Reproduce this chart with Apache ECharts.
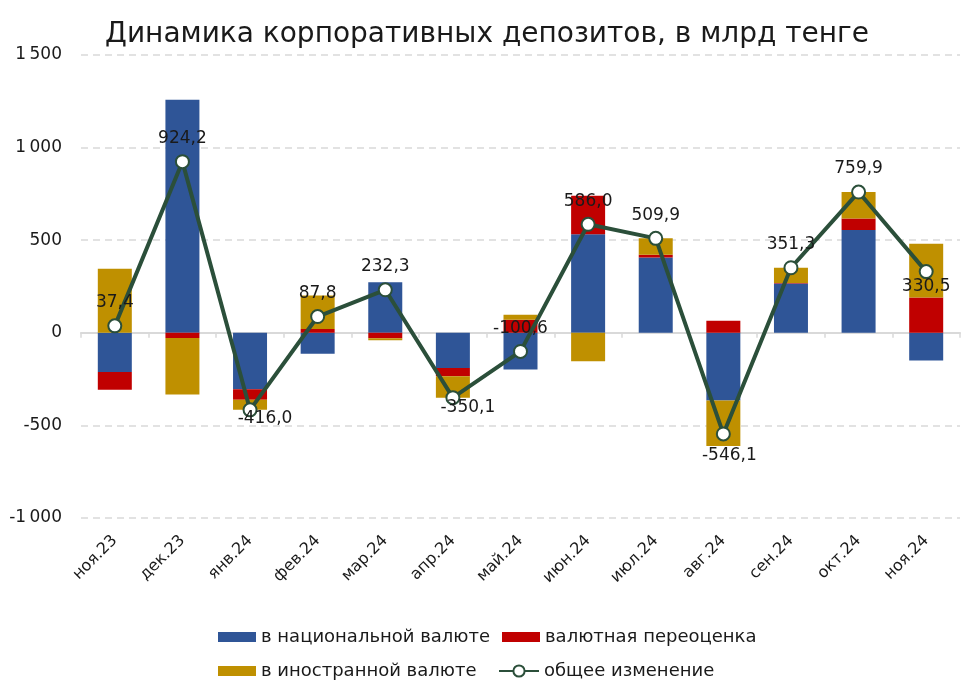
<!DOCTYPE html>
<html>
<head>
<meta charset="utf-8">
<script src="https://cdn.jsdelivr.net/npm/echarts@6/dist/echarts.min.js"></script>
<style>
html,body{margin:0;padding:0;background:#fff;}
#chart{width:974px;height:694px;}
</style>
</head>
<body>
<div id="chart"></div>
<script>
var categories = ['ноя.23','дек.23','янв.24','фев.24','мар.24','апр.24','май.24','июн.24','июл.24','авг.24','сен.24','окт.24','ноя.24'];
var nationalCurrency = [-212, 1258, -305, -113, 272.3, -190, -198, 532, 406, -365, 266, 555, -150];
var revaluation = [-96, -28, -57, 20, -30, -44, 70, 208, 16, 65, 3, 62, 190];
var foreignCurrency = [345.4, -305.8, -54, 180.8, -10, -116.1, 27.4, -154, 87.9, -246.1, 82.3, 142.9, 290.5];
var totalChange = [37.4, 924.2, -416.0, 87.8, 232.3, -350.1, -100.6, 586.0, 509.9, -546.1, 351.3, 759.9, 330.5];
var yTicks = [-1000, -500, 0, 500, 1000, 1500];

var FONT = 'DejaVu Sans';
var names = ['в национальной валюте', 'валютная переоценка', 'в иностранной валюте', 'общее изменение'];

// label styling for points whose label sits below the marker
var belowOffsets = {2: [15, 9], 5: [15, 10], 9: [6, 22], 12: [0, 15]};

var lineData = totalChange.map(function (v, i) {
  var item = {value: v};
  if (belowOffsets[i]) {
    item.label = {position: 'inside', offset: belowOffsets[i]};
  }
  return item;
});

function fmtNum(v) {
  return v.toFixed(1).replace('.', ',');
}
function fmtTick(v) {
  var s = Math.abs(v).toString();
  if (s.length > 3) s = s.slice(0, s.length - 3) + '\u2009' + s.slice(s.length - 3);
  return (v < 0 ? '-' : '') + s;
}

var chart = echarts.init(document.getElementById('chart'), null, {renderer: 'canvas'});
var legendBase = {
  orient: 'horizontal',
  itemWidth: 38,
  itemHeight: 10,
  itemGap: 5,
  textStyle: {fontFamily: FONT, fontSize: 18, color: '#1a1a1a'},
  selectedMode: false
};
chart.setOption({
  animation: false,
  backgroundColor: '#ffffff',
  title: {
    text: 'Динамика корпоративных депозитов, в млрд тенге',
    left: 'center',
    top: 16,
    textStyle: {fontFamily: FONT, fontSize: 28, fontWeight: 'normal', color: '#1a1a1a'}
  },
  legend: [
    Object.assign({}, legendBase, {data: [{name: names[0], icon: 'rect'}], left: 213, top: 623}),
    Object.assign({}, legendBase, {data: [{name: names[1], icon: 'rect'}], left: 497, top: 623}),
    Object.assign({}, legendBase, {data: [{name: names[2], icon: 'rect'}], left: 213, top: 657}),
    Object.assign({}, legendBase, {data: [names[3]], left: 493, top: 657, itemWidth: 40, itemHeight: 14})
  ],
  grid: {left: 81, right: 14, top: 55, bottom: 176, containLabel: false},
  xAxis: {
    type: 'category',
    data: categories,
    axisLine: {onZero: true, lineStyle: {color: '#d9d9d9', width: 2}},
    axisTick: {show: true, length: 5, lineStyle: {color: '#d9d9d9', width: 1.5}},
    axisLabel: {
      interval: 0,
      rotate: 45,
      fontFamily: FONT,
      fontSize: 16,
      color: '#1a1a1a',
      margin: 20
    },
    position: 'bottom'
  },
  yAxis: {
    type: 'value',
    min: -1000,
    max: 1500,
    interval: 500,
    axisLine: {show: false},
    axisTick: {show: false},
    axisLabel: {
      fontFamily: FONT,
      fontSize: 17,
      color: '#1a1a1a',
      margin: 19,
      formatter: function (v) { return fmtTick(v); }
    },
    splitLine: {lineStyle: {color: '#d9d9d9', width: 1.5, type: [7, 5]}}
  },
  series: [
    {
      name: names[0], type: 'bar', stack: 'dep', data: nationalCurrency,
      barWidth: 34, itemStyle: {color: '#2F5597'}
    },
    {
      name: names[1], type: 'bar', stack: 'dep', data: revaluation,
      barWidth: 34, itemStyle: {color: '#C00000'}
    },
    {
      name: names[2], type: 'bar', stack: 'dep', data: foreignCurrency,
      barWidth: 34, itemStyle: {color: '#BF9000'}
    },
    {
      name: names[3], type: 'line', data: lineData, z: 5,
      symbol: 'circle', symbolSize: 13,
      lineStyle: {color: '#2B4F3A', width: 4},
      itemStyle: {color: '#ffffff', borderColor: '#2B4F3A', borderWidth: 2},
      label: {
        show: true,
        position: 'top',
        distance: 7,
        fontFamily: FONT,
        fontSize: 17,
        color: '#1a1a1a',
        formatter: function (p) { return fmtNum(p.value); }
      }
    }
  ]
});
</script>
</body>
</html>
